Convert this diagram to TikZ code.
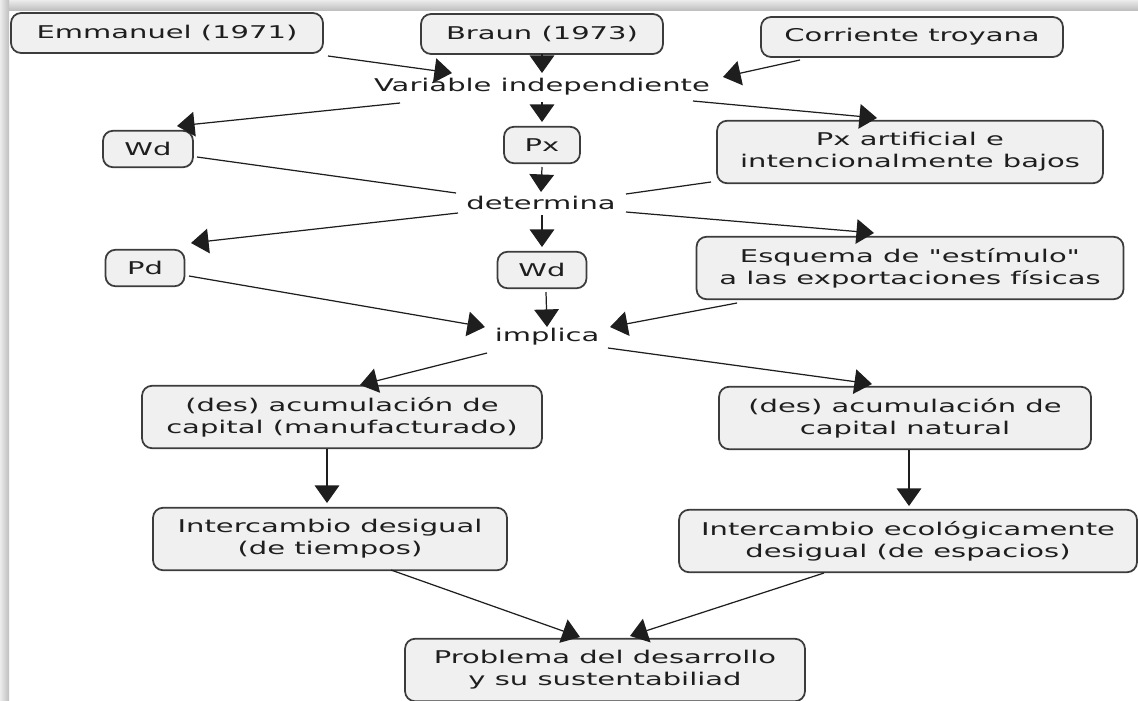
\documentclass[tikz,border=0pt]{standalone}
\usepackage{fontspec}
\setmainfont{DejaVu Sans}[FakeStretch=1.65, Ligatures=TeXOff]
\usetikzlibrary{arrows.meta,calc}

\definecolor{boxfill}{HTML}{F0F0F0}
\definecolor{boxline}{HTML}{3C3C3C}
\definecolor{inkline}{HTML}{1E1E1E}

\tikzset{
  concept/.style={draw=boxline, line width=1pt, fill=boxfill, rounded corners=0.2cm,
    align=center, inner sep=2pt, minimum height=0.8cm, text=inkline,
    font=\fontsize{10}{12.5}\selectfont},
  twoline/.style={concept, minimum height=1.25cm},
  small/.style={concept, minimum height=0.73cm},
  linkword/.style={inner sep=0pt, text=inkline, font=\fontsize{10}{12.5}\selectfont},
  arr/.style={draw=inkline, line width=0.7pt, -{Triangle[length=10pt,width=14pt]}},
  plain/.style={draw=inkline, line width=0.7pt}
}

\begin{document}
\begin{tikzpicture}[x=0.02cm,y=-0.02cm]

    \useasboundingbox (0,0) rectangle (1138,700);

    % shadow of the frame
    \shade[top color=gray!15, bottom color=gray!50] (0,0) rectangle (1138,10);
    \shade[left color=gray!15, right color=gray!50] (0,0) rectangle (9,700);

    % top row
    \node[concept, minimum width=6.24cm] (emm) at (167,33) {Emmanuel (1971)};
    \node[concept, minimum width=4.84cm] (braun) at (542,34) {Braun (1973)};
    \node[concept, minimum width=6.04cm] (corr) at (912,37) {Corriente troyana};
    \node[linkword] (varind) at (542,87) {Variable independiente};

    % second row
    \node[small, minimum width=1.8cm] (wdA) at (148,149) {Wd};
    \node[small, minimum width=1.52cm] (px) at (542,145) {Px};
    \node[twoline, minimum width=7.72cm] (pxart) at (910,152) {Px artificial e\\intencionalmente bajos};
    \node[linkword] (det) at (541,203) {determina};

    % third row
    \node[small, minimum width=1.58cm] (pd) at (145,268) {Pd};
    \node[small, minimum width=1.78cm] (wdB) at (542,270) {Wd};
    \node[twoline, minimum width=8.54cm] (esq) at (910,268) {Esquema de "estímulo"\\a las exportaciones físicas};
    \node[linkword] (impl) at (547,337) {implica};

    % lower part
    \node[twoline, minimum width=8cm] (acman) at (342,417) {(des) acumulación de\\capital (manufacturado)};
    \node[twoline, minimum width=7.44cm] (acnat) at (905,418) {(des) acumulación de\\capital natural};
    \node[twoline, minimum width=7.08cm] (inttie) at (330,539) {Intercambio desigual\\(de tiempos)};
    \node[twoline, minimum width=9.16cm] (intesp) at (908,541) {Intercambio ecológicamente\\desigual (de espacios)};
    \node[twoline, minimum width=8cm] (prob) at (605,670) {Problema del desarrollo\\y su sustentabiliad};

    % into "Variable independiente"
    \draw[arr] ($(emm)+(161,23)$) -- ($(varind)+(-90,-14)$);
    \draw[arr] ($(braun)+(0,20)$) -- ($(varind)+(0,-14)$);
    \draw[arr] ($(corr)+(-112,23)$) -- ($(varind)+(181,-10)$);

    % out of "Variable independiente"
    \draw[arr] ($(varind)+(-142,16)$) -- ($(wdA)+(29,-23)$);
    \draw[arr] ($(varind)+(0,15)$) -- ($(px)+(0,-23)$);
    \draw[arr] ($(varind)+(151,14)$) -- ($(pxart)+(-33,-34)$);

    % into "determina"
    \draw[plain] ($(wdA)+(49,8)$) -- ($(det)+(-85,-10)$);
    \draw[arr] ($(px)+(0,22)$) -- ($(det)+(0,-11)$);
    \draw[plain] ($(pxart)+(-199,30)$) -- ($(det)+(85,-9)$);

    % out of "determina"
    \draw[arr] ($(det)+(-83,10)$) -- ($(pd)+(46,-25)$);
    \draw[arr] ($(det)+(1,12)$) -- ($(wdB)+(0,-23)$);
    \draw[arr] ($(det)+(85,9)$) -- ($(esq)+(-36,-35)$);

    % into "implica"
    \draw[arr] ($(pd)+(44,8)$) -- ($(impl)+(-62,-10)$);
    \draw[arr] ($(wdB)+(4,22)$) -- ($(impl)+(0,-10)$);
    \draw[arr] ($(esq)+(-173,35)$) -- ($(impl)+(63,-10)$);

    % out of "implica"
    \draw[arr] ($(impl)+(-60,16)$) -- ($(acman)+(18,-32)$);
    \draw[arr] ($(impl)+(61,11)$) -- ($(acnat)+(-33,-34)$);

    % down to the bottom
    \draw[arr] ($(acman)+(-15,32)$) -- ($(inttie)+(-3,-36)$);
    \draw[arr] ($(acnat)+(4,32)$) -- ($(intesp)+(1,-35)$);
    \draw[arr] ($(inttie)+(61,31)$) -- ($(prob)+(-25,-33)$);
    \draw[arr] ($(intesp)+(-84,32)$) -- ($(prob)+(25,-34)$);

\end{tikzpicture}
\end{document}
